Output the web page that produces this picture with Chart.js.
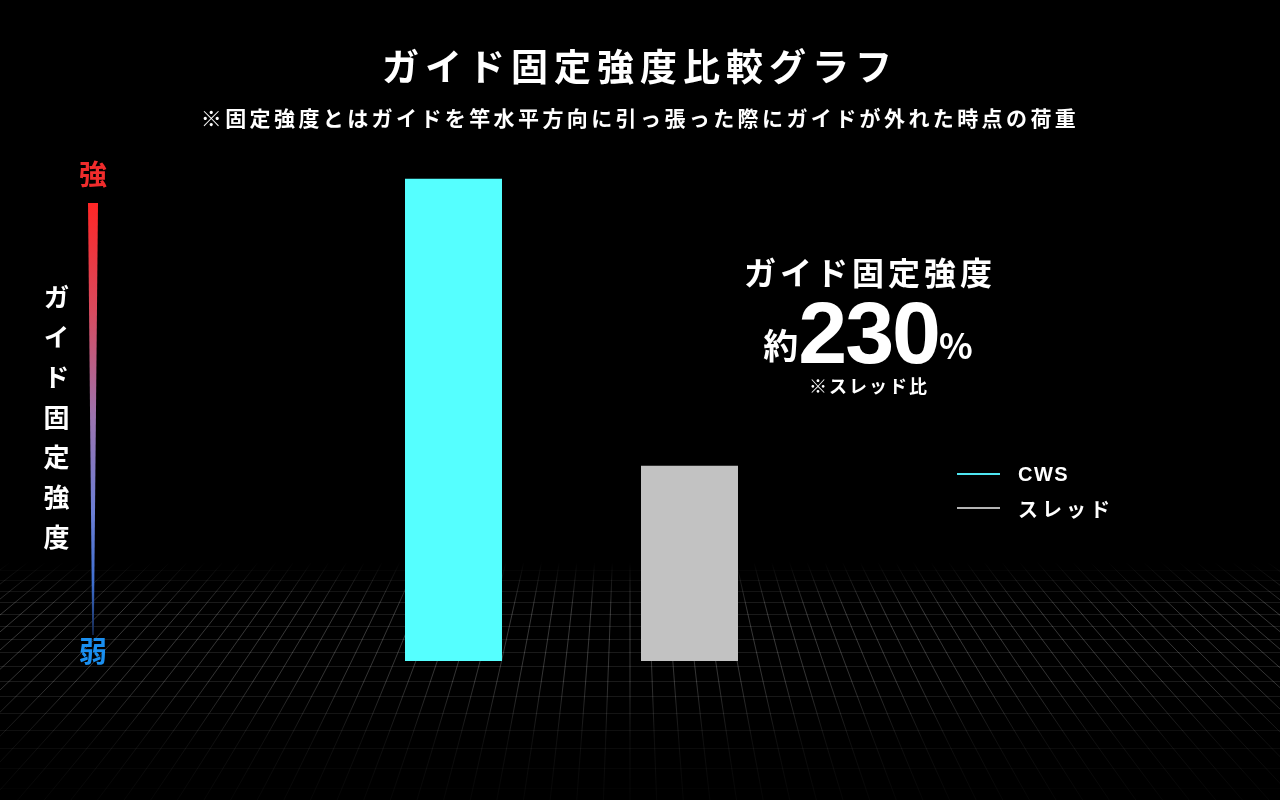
<!DOCTYPE html>
<html lang="ja">
<head>
<meta charset="utf-8">
<script src="https://cdn.jsdelivr.net/npm/chart.js@4.4.1/dist/chart.umd.min.js"></script>
<style>
    html, body {margin: 0; padding: 0; background: #000;}
    .wrap {position: relative; width: 1280px; height: 800px; overflow: hidden; background: #000;
        font-family: "Noto Sans CJK JP", "Noto Sans", sans-serif; color: #fff; font-weight: 700;}
    canvas {position: absolute; left: 0; top: 0;}
    .t {position: absolute; white-space: nowrap; transform: translate(-50%, -50%); line-height: 1;}
    .title {left: 640px; top: 65px; font-size: 37px; letter-spacing: 6px;}
    .sub {left: 640px; top: 117px; font-size: 21px; letter-spacing: 3.4px;}
    .strong {left: 93px; top: 173px; font-size: 28px; color: #f02c2c;}
    .weak {left: 93px; top: 650px; font-size: 28px; color: #1a8ff0;}
    .ylabel {left: 56px; top: 424px; font-size: 26px; writing-mode: vertical-rl; text-orientation: upright; letter-spacing: 14px;}
    .callout1 {left: 870px; top: 271px; font-size: 32px; letter-spacing: 4px;}
    .callout2 {left: 868px; top: 333px;}
    .callout2 .s {font-size: 35px;}
    .callout2 .big {font-size: 88px; letter-spacing: -2px; font-family: "Liberation Sans", Arial, sans-serif; vertical-align: -4px;}
    .callout3 {left: 869px; top: 385px; font-size: 18px; letter-spacing: 2px;}
    .legend {position: absolute; left: 957px; top: 457px;}
    .legend .row {display: flex; align-items: center; height: 34px;}
    .legend .ln {width: 43px; height: 2px; margin-right: 18px;}
    .legend .lb {font-size: 20px; letter-spacing: 4px;}
    .legend .lb.latin {font-family: "Liberation Sans", Arial, sans-serif; letter-spacing: 1.5px;}
</style>
</head>
<body>
<div class="wrap">
    <canvas id="chart" width="1280" height="800"></canvas>
    <div class="t title">ガイド固定強度比較グラフ</div>
    <div class="t sub">※固定強度とはガイドを竿水平方向に引っ張った際にガイドが外れた時点の荷重</div>
    <div class="t strong">強</div>
    <div class="t weak">弱</div>
    <div class="t ylabel">ガイド固定強度</div>
    <div class="t callout1">ガイド固定強度</div>
    <div class="t callout2"><span class="s">約</span><span class="big">230</span><span class="s">%</span></div>
    <div class="t callout3">※スレッド比</div>
    <div class="legend" id="legend"></div>
</div>
<script>
// data
const categories = ['CWS', 'スレッド'];
const strengthValues = [247, 100];   // relative, スレッド = 100
const barColors = ['#55ffff', '#c2c2c2'];
const legendLineColors = ['#4fe6f2', '#b4b4b4'];

// legend
const legendEl = document.getElementById('legend');
categories.forEach((name, i) => {
    const row = document.createElement('div');
    row.className = 'row';
    const cls = /^[A-Za-z]+$/.test(name) ? 'lb latin' : 'lb';
    row.innerHTML = '<div class="ln" style="background:' + legendLineColors[i] + '"></div><div class="' + cls + '">' + name + '</div>';
    legendEl.appendChild(row);
});

// perspective floor + left gradient axis
const floorPlugin = {
    id: 'floor',
    beforeDraw(chart) {
        const c = chart.ctx;
        const W = chart.width;
        const vx = 630, vy = 90;      // vanishing point
        const top = 562, bottom = 800;
        c.save();
        c.fillStyle = '#000';
        c.fillRect(0, 0, W, chart.height);
        c.beginPath();
        c.rect(0, top, W, bottom - top);
        c.clip();

        // horizontal lines
        const u0 = 1 / 480, du = 4.34e-5;
        for (let i = -1; i < 30; i++) {
            const u = u0 - i * du;
            if (u <= 0) break;
            const y = vy + 1 / u;
            if (y > bottom) break;
            let a = 0.1;
            if (y < 600) a *= Math.max(0, (y - top) / (600 - top));
            if (y > 690) a *= Math.max(0.12, 1 - (y - 690) / 100);
            c.strokeStyle = 'rgba(255,255,255,' + a + ')';
            c.lineWidth = 1;
            c.beginPath();
            c.moveTo(0, Math.round(y) + 0.5);
            c.lineTo(W, Math.round(y) + 0.5);
            c.stroke();
        }

        // converging lines
        const g = c.createLinearGradient(0, top, 0, bottom);
        g.addColorStop(0, 'rgba(255,255,255,0)');
        g.addColorStop(0.2, 'rgba(255,255,255,0.22)');
        g.addColorStop(0.5, 'rgba(255,255,255,0.2)');
        g.addColorStop(0.75, 'rgba(255,255,255,0.06)');
        g.addColorStop(1, 'rgba(255,255,255,0.025)');
        c.strokeStyle = g;
        c.lineWidth = 1;
        const step = 18, ref = 480;
        for (let j = -90; j <= 90; j++) {
            const k = step * j / ref;
            c.beginPath();
            c.moveTo(vx + k * (top - vy), top);
            c.lineTo(vx + k * (bottom - vy), bottom);
            c.stroke();
        }
        c.restore();

        // gradient wedge on the left
        c.save();
        const ag = c.createLinearGradient(0, 203, 0, 635);
        ag.addColorStop(0, '#ff2626');
        ag.addColorStop(0.25, '#d84a5e');
        ag.addColorStop(0.5, '#9a74b0');
        ag.addColorStop(0.72, '#6b7fd6');
        ag.addColorStop(0.88, '#3f6fd0');
        ag.addColorStop(1, '#142a55');
        c.fillStyle = ag;
        c.beginPath();
        c.moveTo(88, 203);
        c.lineTo(98, 203);
        c.lineTo(93.8, 635);
        c.lineTo(92.2, 635);
        c.closePath();
        c.fill();
        c.restore();
    }
};

const ctx = document.getElementById('chart');
const chart = new Chart(ctx, {
    type: 'bar',
    data: {
        labels: categories,
        datasets: [{
            label: 'ガイド固定強度',
            data: strengthValues,
            backgroundColor: barColors,
            borderWidth: 0,
            categoryPercentage: 1,
            barPercentage: 0.411
        }]
    },
    options: {
        responsive: false,
        animation: false,
        layout: {
            padding: {left: 335.5, right: 472.5, top: 173, bottom: 139}
        },
        scales: {
            x: {display: false},
            y: {display: false, min: 0, max: 250}
        },
        plugins: {
            legend: {display: false},
            tooltip: {enabled: false}
        }
    },
    plugins: [floorPlugin]
});
</script>
</body>
</html>
